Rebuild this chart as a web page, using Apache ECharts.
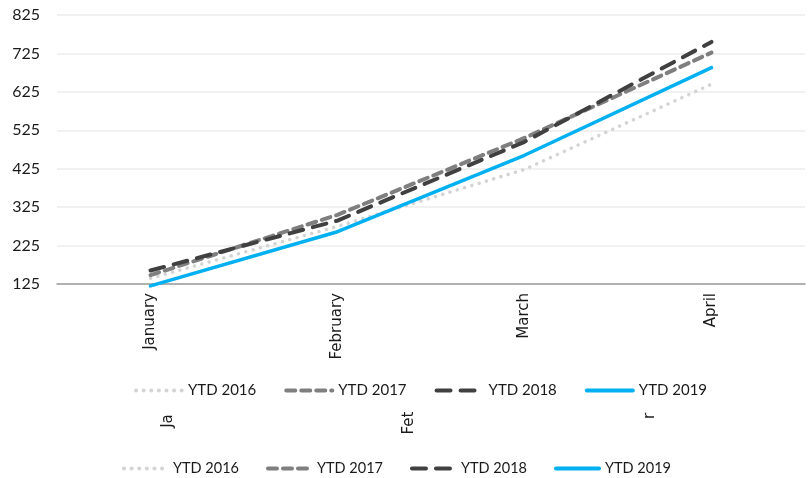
<!DOCTYPE html>
<html>
<head>
<meta charset="utf-8">
<script src="https://cdn.jsdelivr.net/npm/echarts@6/dist/echarts.min.js"></script>
<style>html,body{margin:0;padding:0;background:#fff}#c{width:810px;height:478px}</style>
</head>
<body>
<div id="c"></div>
<script>
const categories = ['January', 'February', 'March', 'April'];
const seriesNames = ['YTD 2016', 'YTD 2017', 'YTD 2018', 'YTD 2019'];
const ytd2016 = [140, 275, 423, 645];
const ytd2017 = [148, 305, 505, 727];
const ytd2018 = [160, 290, 495, 755];
const ytd2019 = [120, 261, 460, 688];
const yTicks = [125, 225, 325, 425, 525, 625, 725, 825];
const ghostLabels = ['Ja', 'Fet', 'r'];

const FONT = 'Lato, "Open Sans", sans-serif';
const CATFONT = '"DejaVu Sans", Verdana, sans-serif';
const chart = echarts.init(document.getElementById('c'), null, {renderer: 'canvas'});

const styles = [
  {color: '#d4d4d4', width: 3.5, type: [0.1, 7.5], cap: 'round'},
  {color: '#7f7f7f', width: 4, type: [9, 6], cap: 'round'},
  {color: '#404040', width: 4, type: [14, 10], cap: 'round'},
  {color: '#00b0f0', width: 3.5, type: 'solid', cap: 'round'}
];
const values = [ytd2016, ytd2017, ytd2018, ytd2019];

chart.setOption({
  animation: false,
  grid: {left: 57, right: 5, top: 15, bottom: 194},
  legend: [
    {top: 378, left: 129, itemWidth: 46, itemHeight: 14, itemGap: 28,
      itemStyle: {opacity: 0},
      lineStyle: {width: 4, cap: 'round'},
      textStyle: {fontFamily: FONT, fontSize: 15, color: '#1a1a1a', padding: [0, 0, 0, 1]},
      data: seriesNames},
    {top: 456, left: 117, itemWidth: 43, itemHeight: 14, itemGap: 27,
      itemStyle: {opacity: 0},
      lineStyle: {width: 4, cap: 'round'},
      textStyle: {fontFamily: FONT, fontSize: 14.5, color: '#1a1a1a', padding: [0, 0, 0, 1]},
      data: seriesNames}
  ],
  xAxis: {
    type: 'category',
    data: categories,
    boundaryGap: true,
    axisLine: {lineStyle: {color: '#9a9a9a', width: 1.5}},
    axisTick: {show: false},
    axisLabel: {rotate: 90, margin: 9, fontFamily: CATFONT, fontSize: 15, color: '#1a1a1a'}
  },
  yAxis: {
    type: 'value',
    min: yTicks[0],
    max: yTicks[yTicks.length - 1],
    interval: 100,
    axisLine: {show: false},
    axisTick: {show: false},
    splitLine: {lineStyle: {color: '#ececec', width: 1.5}},
    axisLabel: {margin: 17, fontFamily: FONT, fontSize: 16, color: '#1a1a1a'}
  },
  series: seriesNames.map((n, i) => ({
    name: n,
    type: 'line',
    data: values[i],
    symbol: 'none',
    clip: false,
    z: 2 + i,
    lineStyle: {color: styles[i].color, width: styles[i].width, type: styles[i].type, cap: styles[i].cap},
    itemStyle: {color: styles[i].color}
  })),
  graphic: [
    {type: 'text', x: 168, y: 421, rotation: Math.PI / 2,
      style: {text: ghostLabels[0], fontFamily: CATFONT, fontSize: 15, fill: '#1a1a1a', align: 'center', verticalAlign: 'middle'}},
    {type: 'text', x: 409, y: 423, rotation: Math.PI / 2,
      style: {text: ghostLabels[1], fontFamily: CATFONT, fontSize: 15, fill: '#1a1a1a', align: 'center', verticalAlign: 'middle'}},
    {type: 'text', x: 650, y: 416, rotation: Math.PI / 2,
      style: {text: ghostLabels[2], fontFamily: CATFONT, fontSize: 15, fill: '#1a1a1a', align: 'center', verticalAlign: 'middle'}}
  ]
});
</script>
</body>
</html>
